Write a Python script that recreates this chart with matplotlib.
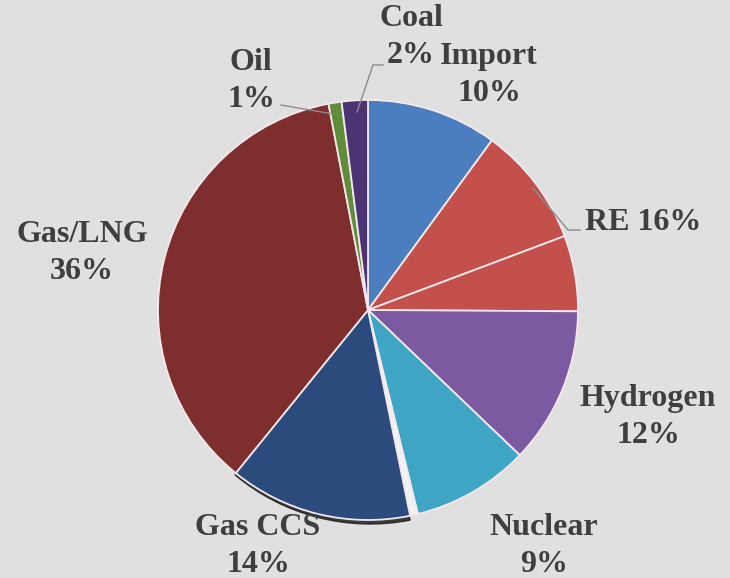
import matplotlib
matplotlib.use("Agg")
import matplotlib.pyplot as plt
from matplotlib.patches import Wedge

# Data (clockwise from top)
categories = ["Import", "RE", "RE", "Hydrogen", "Nuclear", "", "Gas CCS", "Gas/LNG", "Oil", "Coal"]
values = [10, 9.2, 5.8, 12, 9, 0.6, 14, 36, 1, 2]
colors = ["#4a7ebf", "#c4504c", "#c4504c", "#7b5aa2", "#3ea5c5", "#f2f2f2",
          "#2b4b7c", "#7e2e2d", "#5f8c38", "#4b3472"]
label_texts = ["Coal\n2%", "Import\n10%", "Oil\n1%", "RE 16%", "Hydrogen\n12%",
               "Nuclear\n9%", "Gas CCS\n14%", "Gas/LNG\n36%"]

W, H = 730, 578
fig = plt.figure(figsize=(W / 100, H / 100), dpi=100)
fig.patch.set_facecolor("#e0e0e0")
ax = fig.add_axes([0, 0, 1, 1])

def py(y):
    return H - y

cx, cy, r = 368, py(310), 210

# subtle shadow under the bottom of the pie
ax.add_patch(Wedge((cx + 2, cy - 4), r, 230, 281, color="#1e1e1e", alpha=0.85, zorder=0))

ax.pie(values, colors=colors, startangle=90, counterclock=False,
       center=(cx, cy), radius=r, frame=True,
       wedgeprops=dict(edgecolor="#f4e8ec", linewidth=1.3))
ax.set_xlim(0, W)
ax.set_ylim(0, H)
ax.set_aspect("equal")
ax.axis("off")

tc = "#3f3f3f"
fkw = dict(family=["Liberation Serif", "DejaVu Serif"], fontweight="bold",
           fontsize=23, color=tc, linespacing=1.35)

positions = [(411, 37, "center"), (489, 75, "center"), (251, 81, "center"),
             (585, 222, "left"), (648, 417, "center"), (544, 546, "center"),
             (258, 546, "center"), (82, 253, "center")]
for txt, (x, y, ha) in zip(label_texts, positions):
    ax.text(x, py(y), txt, ha=ha, va="center", **fkw)

lc = "#8c8c8c"
# Coal leader
ax.plot([383, 373, 357], [py(65), py(65), py(112)], color=lc, lw=1)
# Oil leader
ax.plot([281, 333], [py(105), py(114)], color=lc, lw=1)
# RE leader
ax.plot([580, 568, 533], [py(230), py(230), py(188)], color=lc, lw=1)

fig.savefig("out.png", dpi=100, facecolor=fig.get_facecolor())
